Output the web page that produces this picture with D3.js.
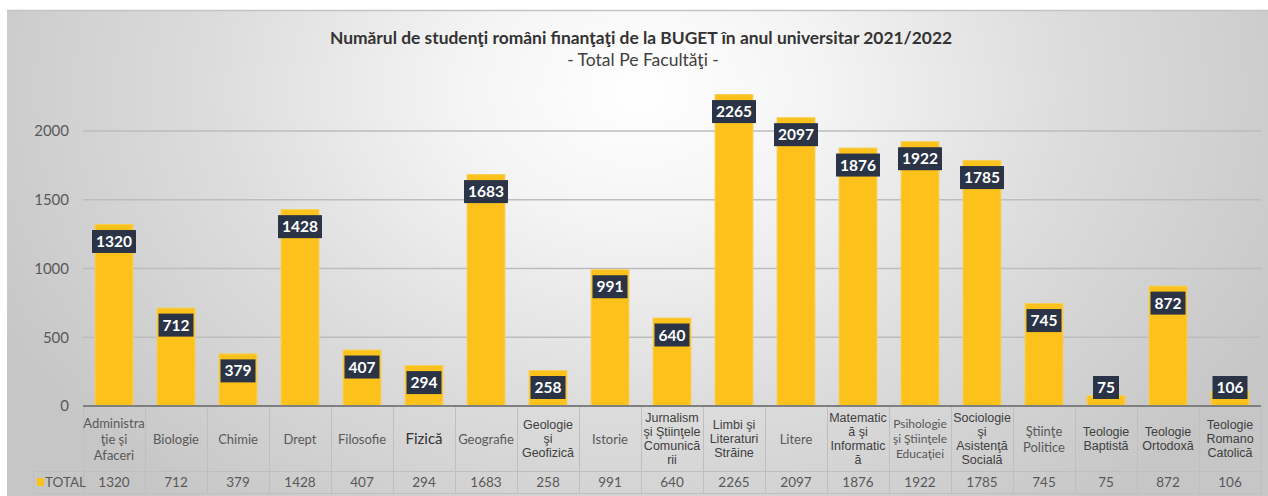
<!DOCTYPE html>
<html><head><meta charset="utf-8">
<script src="https://cdn.jsdelivr.net/npm/d3@7"></script>
<style>html,body{margin:0;padding:0;background:#fff;overflow:hidden}</style>
</head><body>
<svg id="c" width="1268" height="496"></svg>
<script>
const categories = ["Administrație și Afaceri","Biologie","Chimie","Drept","Filosofie","Fizică","Geografie","Geologie și Geofizică","Istorie","Jurnalism și Științele Comunicării","Limbi și Literaturi Străine","Litere","Matematică și Informatică","Psihologie și Științele Educației","Sociologie și Asistență Socială","Științe Politice","Teologie Baptistă","Teologie Ortodoxă","Teologie Romano Catolică"];
const categoryLines = [["Administra","ţie şi","Afaceri"],["Biologie"],["Chimie"],["Drept"],["Filosofie"],["Fizică"],["Geografie"],["Geologie","şi","Geofizică"],["Istorie"],["Jurnalism","şi Ştiinţele","Comunică","rii"],["Limbi şi","Literaturi","Străine"],["Litere"],["Matematic","ă şi","Informatic","ă"],["Psihologie","şi Ştiinţele","Educaţiei"],["Sociologie","şi","Asistenţă","Socială"],["Ştiinţe","Politice"],["Teologie","Baptistă"],["Teologie","Ortodoxă"],["Teologie","Romano","Catolică"]];
const categoryStyle = ["c","c","c","c","c","big","c","a","c","a","a","c","a","cs","a","c","a","a","a"];
const totals = [1320,712,379,1428,407,294,1683,258,991,640,2265,2097,1876,1922,1785,745,75,872,106];
const yTicks = [0,500,1000,1500,2000];
const seriesName = "TOTAL";
const title = "Numărul de studenţi români finanţaţi de la BUGET în anul universitar 2021/2022";
const subtitle = "- Total Pe Facultăţi -";

const svg = d3.select("#c");
const defs = svg.append("defs");
const rg = defs.append("radialGradient").attr("id","bg").attr("gradientUnits","userSpaceOnUse")
  .attr("cx",640).attr("cy",90).attr("r",720)
  .attr("gradientTransform","translate(640,90) scale(1,0.75) translate(-640,-90)");
rg.append("stop").attr("offset",0).attr("stop-color","#ffffff");
rg.append("stop").attr("offset",0.25).attr("stop-color","#f4f4f4");
rg.append("stop").attr("offset",0.6).attr("stop-color","#dcdcdc");
rg.append("stop").attr("offset",1).attr("stop-color","#c6c6c6");

svg.append("rect").attr("x",7).attr("y",10).attr("width",1261).attr("height",486).attr("fill","url(#bg)");
svg.append("line").attr("x1",7).attr("x2",1268).attr("y1",10.5).attr("y2",10.5).attr("stroke","#c4c4c4").attr("stroke-width",1.5);

const x = d3.scaleBand().domain(categories).range([83,1261]).paddingInner(0.39).paddingOuter(0.195);
const y = d3.scaleLinear().domain([0,2000]).range([406,131]);

// title
svg.append("text").attr("x",641).attr("y",44).attr("text-anchor","middle")
  .attr("font-family","Lato, 'Open Sans', sans-serif").attr("font-weight","bold").attr("font-size",17.4).attr("fill","#333")
  .text(title);
svg.append("text").attr("x",643).attr("y",66).attr("text-anchor","middle")
  .attr("font-family","Lato, 'Open Sans', sans-serif").attr("font-size",17.5).attr("fill","#404040")
  .text(subtitle);

// gridlines
const yAxis = d3.axisLeft(y).tickValues(yTicks).tickFormat(d3.format("d")).tickSize(0).tickPadding(14);
const ga = svg.append("g").attr("transform","translate(83,0)").call(yAxis);
ga.select(".domain").remove();
ga.selectAll("text").attr("font-family","Lato, 'Open Sans', sans-serif").attr("font-size",15).attr("fill","#595959");
svg.append("g").selectAll("line").data(yTicks.filter(d=>d>0)).join("line")
  .attr("x1",83).attr("x2",1261).attr("y1",d=>y(d)).attr("y2",d=>y(d))
  .attr("stroke","#bdbdbd").attr("stroke-width",1.5);

// bars
svg.append("g").selectAll("rect").data(totals).join("rect")
  .attr("x",(d,i)=>x(categories[i])).attr("width",x.bandwidth())
  .attr("y",d=>y(d)).attr("height",d=>y(0)-y(d))
  .attr("fill","#fcc21b").attr("stroke","#f7cf55").attr("stroke-width",1);

// axis line
svg.append("line").attr("x1",83).attr("x2",1261).attr("y1",y(0)).attr("y2",y(0)).attr("stroke","#7f7f7f").attr("stroke-width",2);

// labels
const lg = svg.append("g");
totals.forEach((v,i)=>{
  const cx = x(categories[i]) + x.bandwidth()/2;
  const cy = Math.min(y(v)+17, 387.5);
  const g = lg.append("g");
  const t = g.append("text").attr("x",cx).attr("y",cy).attr("dy","0.36em").attr("text-anchor","middle")
    .attr("font-family","Lato, 'Open Sans', sans-serif").attr("font-weight","bold").attr("font-size",15.5).attr("fill","#fff")
    .text(v);
  const w = t.node().getComputedTextLength() + 8;
  g.insert("rect","text").attr("x",cx-w/2).attr("y",cy-11.5).attr("width",w).attr("height",23).attr("fill","#2a3446");
});

// table
const tb = svg.append("g");
const gridC = "#bfbfbf";
const bounds = categories.map(c=>x(c)-x.step()*x.paddingInner()/2);
bounds.push(1261);
tb.append("line").attr("x1",83).attr("x2",1261).attr("y1",471.5).attr("y2",471.5).attr("stroke",gridC);
tb.append("line").attr("x1",33).attr("x2",83).attr("y1",471.5).attr("y2",471.5).attr("stroke",gridC);
tb.append("line").attr("x1",33).attr("x2",1261).attr("y1",493.5).attr("y2",493.5).attr("stroke",gridC);
tb.append("line").attr("x1",33.5).attr("x2",33.5).attr("y1",471.5).attr("y2",493.5).attr("stroke",gridC);
bounds.forEach(b=>{
  tb.append("line").attr("x1",Math.round(b)+0.5).attr("x2",Math.round(b)+0.5).attr("y1",407).attr("y2",493.5).attr("stroke",gridC);
});
categoryLines.forEach((lines,i)=>{
  const cx = x(categories[i]) + x.bandwidth()/2;
  const st = categoryStyle[i];
  let fam, fs, lh, col;
  if (st==="a"){ fam="'Liberation Sans', Arial, sans-serif"; fs=12.5; lh=14; col="#404040"; }
  else if (st==="big"){ fam="Lato, 'Open Sans', sans-serif"; fs=15; lh=16; col="#333"; }
  else if (st==="cs"){ fam="Lato, 'Open Sans', sans-serif"; fs=12; lh=15; col="#595959"; }
  else { fam="Lato, 'Open Sans', sans-serif"; fs=13; lh=16; col="#595959"; }
  const midY = 439;
  const y0 = midY - (lines.length-1)*lh/2;
  const t = tb.append("text").attr("text-anchor","middle").attr("font-family",fam).attr("font-size",fs).attr("fill",col);
  lines.forEach((ln,k)=>{
    t.append("tspan").attr("x",cx).attr("y",y0+k*lh).attr("dy","0.35em").text(ln);
  });
});
totals.forEach((v,i)=>{
  const cx = x(categories[i]) + x.bandwidth()/2;
  tb.append("text").attr("x",cx).attr("y",482.5).attr("dy","0.35em").attr("text-anchor","middle")
    .attr("font-family","Lato, 'Open Sans', sans-serif").attr("font-size",13.5).attr("fill","#595959").text(v);
});
tb.append("rect").attr("x",37).attr("y",478).attr("width",7).attr("height",8).attr("fill","#fcc21b");
tb.append("text").attr("x",45).attr("y",482.5).attr("dy","0.35em")
  .attr("font-family","Lato, 'Open Sans', sans-serif").attr("font-size",13.5).attr("fill","#595959").text(seriesName);
</script>
</body></html>
